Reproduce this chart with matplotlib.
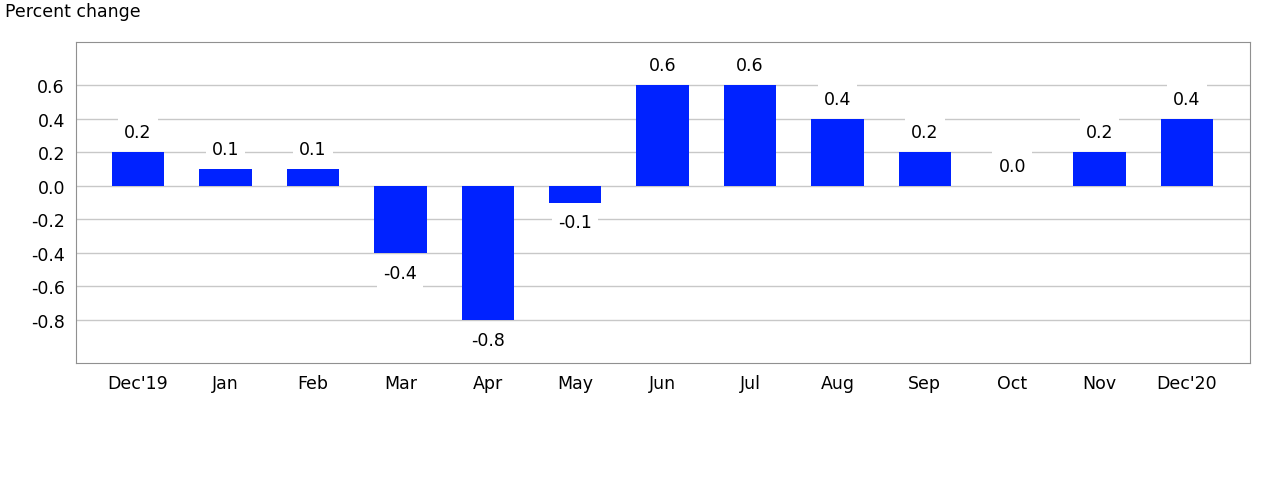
import matplotlib.pyplot as plt

months = ["Dec'19", "Jan", "Feb", "Mar", "Apr", "May", "Jun", "Jul", "Aug", "Sep", "Oct", "Nov", "Dec'20"]
values = [0.2, 0.1, 0.1, -0.4, -0.8, -0.1, 0.6, 0.6, 0.4, 0.2, 0.0, 0.2, 0.4]
yticks = [-0.8, -0.6, -0.4, -0.2, 0.0, 0.2, 0.4, 0.6]

fig = plt.figure(figsize=(12.8, 4.85), dpi=100)
ax = fig.add_axes([76 / 1280, 1 - 364 / 485, (1250 - 76) / 1280, (364 - 43) / 485])

x = range(len(months))
ax.bar(x, values, width=0.6, color="#0022ff", zorder=2)
for xi, v in zip(x, values):
    off = -20 if v < 0 else 20
    ax.annotate(f"{v:.1f}", (xi, v), xytext=(0, off * 0.72), textcoords="offset points",
                ha="center", va="center", fontsize=12.5, zorder=3,
                bbox=dict(boxstyle="square,pad=0.35", fc="white", ec="none"))

ax.set_xlim(-0.71, 12.72)
ax.set_ylim(-1.06, 0.86)
ax.set_xticks(list(x))
ax.set_xticklabels(months)
ax.set_yticks(yticks)
ax.set_yticklabels([f"{t:.1f}" for t in yticks])
ax.tick_params(length=0, labelsize=12.5, pad=8)
ax.grid(axis="y", color="#c8c8c8", linewidth=1, zorder=0)
for s in ax.spines.values():
    s.set_color("#909090")
fig.text(5 / 1280, 1 - 12 / 485, "Percent change", fontsize=12.5, va="center", ha="left")

fig.savefig("out.png", dpi=100)
